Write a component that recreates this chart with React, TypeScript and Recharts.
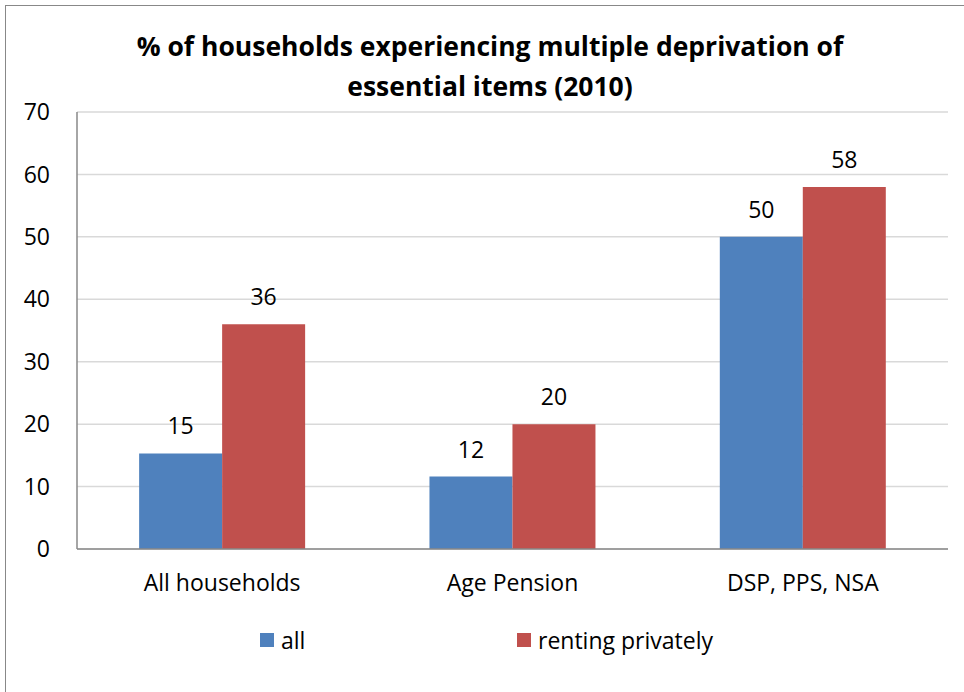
import { BarChart, Bar, XAxis, YAxis, CartesianGrid, LabelList } from "recharts"

const categories = ["All households", "Age Pension", "DSP, PPS, NSA"]
const allValues = [15.3, 11.6, 50]
const rentingValues = [36, 20, 58]
const yTicks = [0, 10, 20, 30, 40, 50, 60, 70]

const series = [
  { key: "all", name: "all", color: "#4F81BD" },
  { key: "renting", name: "renting privately", color: "#C0504D" },
]

const data = categories.map((name, i) => ({
  name,
  all: allValues[i],
  renting: rentingValues[i],
}))

const font = "'Open Sans', sans-serif"

function LegendBox() {
  return (
    <div
      style={{
        position: "absolute",
        top: 624,
        left: 260,
        display: "flex",
        fontFamily: font,
        fontSize: 23,
        lineHeight: "32px",
        color: "#000",
      }}
    >
      {series.map((s) => (
        <div key={s.key} style={{ width: 257, display: "flex", alignItems: "center" }}>
          <span style={{ width: 14, height: 14, background: s.color, display: "inline-block", marginRight: 7 }} />
          <span>{s.name}</span>
        </div>
      ))}
    </div>
  )
}

export default function App() {
  return (
    <div style={{ position: "absolute", left: 0, top: 0, width: 964, height: 692, overflow: "hidden", background: "#fff" }}>
      <div style={{ position: "absolute", left: 5, top: 5, width: 1000, height: 720, border: "1.5px solid #888" }} />
      <BarChart
        width={964}
        height={692}
        data={data}
        margin={{ top: 112, right: 16, bottom: 113, left: 0 }}
        barCategoryGap="21.4%"
        barGap={0}
        style={{ position: "absolute", left: 0, top: 0, fontFamily: font }}
      >
        <CartesianGrid vertical={false} stroke="#D9D9D9" strokeWidth={1.5} />
        <XAxis
          dataKey="name"
          axisLine={{ stroke: "#888", strokeWidth: 1.5 }}
          tickLine={false}
          tickMargin={20}
          tick={{ fill: "#000", fontSize: 23 }}
        />
        <YAxis
          width={77}
          domain={[0, 70]}
          ticks={yTicks}
          axisLine={{ stroke: "#888", strokeWidth: 1.5 }}
          tickLine={false}
          tickMargin={21}
          tick={{ fill: "#000", fontSize: 23 }}
        />
        {series.map((s) => (
          <Bar key={s.key} dataKey={s.key} name={s.name} fill={s.color} isAnimationActive={false}>
            <LabelList
              dataKey={s.key}
              position="top"
              offset={19}
              formatter={(v: number) => Math.round(v)}
              style={{ fill: "#000", fontSize: 23 }}
            />
          </Bar>
        ))}
      </BarChart>
      <div
        style={{
          position: "absolute",
          left: 0,
          top: 26,
          width: 980,
          textAlign: "center",
          fontFamily: font,
          fontWeight: 700,
          fontSize: 26.5,
          lineHeight: "40px",
          color: "#000",
        }}
      >
        % of households experiencing multiple deprivation of
        <br />
        essential items (2010)
      </div>
      <LegendBox />
    </div>
  )
}
